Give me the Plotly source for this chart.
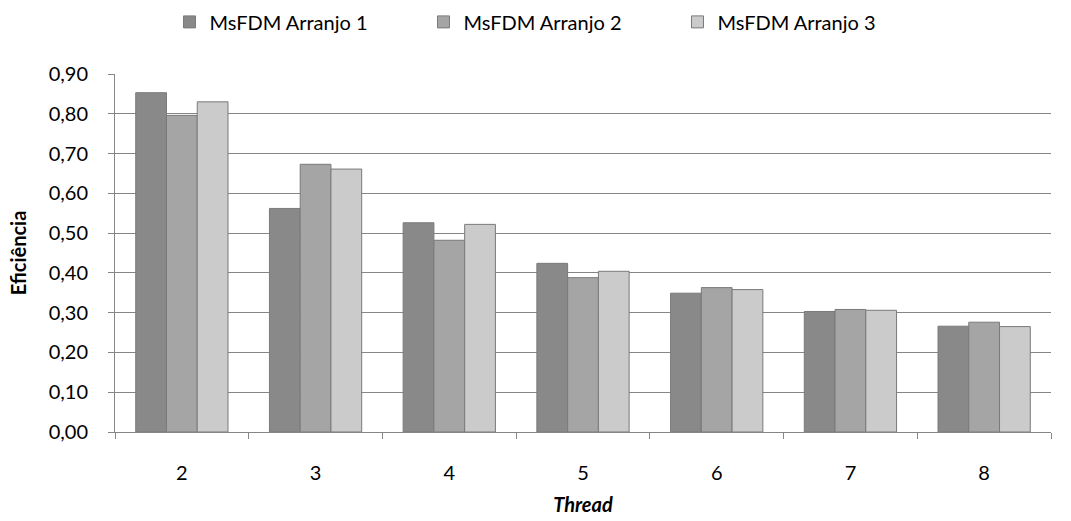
import plotly.graph_objects as go

threads = ["2", "3", "4", "5", "6", "7", "8"]
arranjo1 = [0.853, 0.562, 0.526, 0.424, 0.349, 0.303, 0.266]
arranjo2 = [0.796, 0.673, 0.482, 0.388, 0.363, 0.308, 0.276]
arranjo3 = [0.830, 0.661, 0.522, 0.404, 0.358, 0.306, 0.265]
names = ["MsFDM Arranjo 1", "MsFDM Arranjo 2", "MsFDM Arranjo 3"]
colors = ["#898989", "#a5a5a5", "#cbcbcb"]

fig = go.Figure()
for name, vals, c in zip(names, [arranjo1, arranjo2, arranjo3], colors):
    fig.add_trace(go.Bar(x=threads, y=vals, name=name, marker_color=c,
                         marker_line_color="#7a7a7a", marker_line_width=1))

font = "Lato, Open Sans, sans-serif"
fig.update_layout(
    width=1071, height=521,
    margin=dict(l=115, r=20, t=74, b=89),
    plot_bgcolor="white", paper_bgcolor="white",
    barmode="group", bargap=0.31, bargroupgap=0,
    separators=",.",
    font=dict(family=font, size=20, color="#000000"),
    legend=dict(orientation="h", x=0.514, xanchor="center", xref="container",
                y=0.958, yanchor="middle", yref="container",
                font=dict(size=20), itemwidth=30,
                entrywidth=209, entrywidthmode="pixels",
                traceorder="normal"),
    xaxis=dict(title=dict(text="<b><i>Thread</i></b>", font=dict(size=20), standoff=14),
               automargin=False,
               showline=True, linecolor="#868686", linewidth=1,
               ticks="outside", tickson="boundaries", ticklen=6, tickcolor="#868686",
               ticklabelstandoff=23,
               showgrid=False),
    yaxis=dict(title=dict(text="<b>Eficiência</b>", font=dict(size=20), standoff=16),
               automargin=False,
               range=[0, 0.9], dtick=0.1, tickformat=".2f",
               showline=True, linecolor="#868686", linewidth=1,
               ticks="outside", ticklen=6, tickcolor="#868686",
               ticklabelstandoff=16,
               showgrid=True, gridcolor="#868686", gridwidth=1, zeroline=False),
)
fig.write_html("out.html")
